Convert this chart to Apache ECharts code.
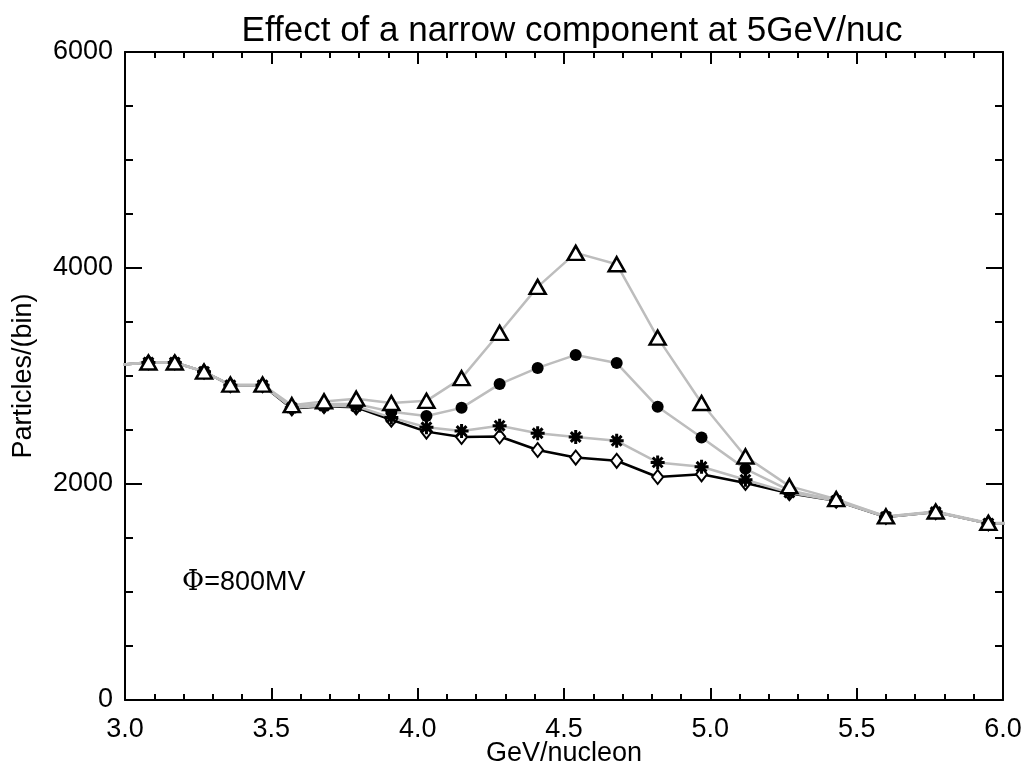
<!DOCTYPE html>
<html>
<head>
<meta charset="utf-8">
<script src="https://cdn.jsdelivr.net/npm/echarts/dist/echarts.min.js"></script>
<style>
  html, body { margin: 0; padding: 0; background: #fff; }
  #chart { width: 1025px; height: 767px; }
</style>
</head>
<body>
<div id="chart"></div>
<script>
// bin centres (GeV/nucleon), first and last lie just outside the plotted range
const energy = [2.99, 3.08, 3.17, 3.27, 3.36, 3.47, 3.57, 3.68, 3.79, 3.91, 4.03, 4.15, 4.28,
  4.41, 4.54, 4.68, 4.82, 4.97, 5.12, 5.27, 5.43, 5.60, 5.77, 5.95, 6.13];

// no narrow component (black, diamonds)
const baseCounts = [3105, 3125, 3125, 3040, 2915, 2915, 2700, 2720, 2710, 2595, 2485, 2435, 2440,
  2315, 2245, 2215, 2065, 2090, 2010, 1915, 1845, 1695, 1740, 1635, 1640];
// weakest component (asterisks)
const starCounts = [3105, 3125, 3125, 3040, 2915, 2915, 2705, 2725, 2720, 2615, 2525, 2490, 2540,
  2470, 2435, 2400, 2200, 2160, 2040, 1920, 1845, 1695, 1740, 1635, 1640];
// medium component (filled circles)
const circleCounts = [3105, 3125, 3125, 3040, 2915, 2915, 2715, 2740, 2740, 2670, 2630, 2705, 2925,
  3075, 3195, 3120, 2715, 2430, 2140, 1940, 1850, 1700, 1740, 1635, 1640];
// strongest component (open triangles)
const triangleCounts = [3105, 3125, 3125, 3040, 2920, 2920, 2730, 2765, 2790, 2750, 2770, 2980, 3400,
  3825, 4140, 4035, 3355, 2750, 2255, 1980, 1860, 1700, 1745, 1640, 1640];

const xTicks = [3.0, 3.5, 4.0, 4.5, 5.0, 5.5, 6.0];
const yTicks = [0, 2000, 4000, 6000];

const pairs = vals => energy.map((e, i) => [e, vals[i]]);

const chartInstance = echarts.init(document.getElementById('chart'));

const fontFamily = '"Liberation Sans", Arial, Helvetica, sans-serif';
const grey = '#bdbdbd';
const asterisk = 'path://M0,5L10,5M5,0L5,10M1.5,1.5L8.5,8.5M8.5,1.5L1.5,8.5';

const xBase = {
  type: 'value',
  min: xTicks[0],
  max: xTicks[xTicks.length - 1],
  interval: 0.5,
  axisLine: { show: true, onZero: false, lineStyle: { color: '#000', width: 2 } },
  axisTick: { show: true, inside: true, length: 12, lineStyle: { color: '#000', width: 2 } },
  minorTick: { show: true, splitNumber: 5, length: 6, lineStyle: { color: '#000', width: 2 } },
  splitLine: { show: false }
};

const yBase = {
  type: 'value',
  min: yTicks[0],
  max: yTicks[yTicks.length - 1],
  interval: 2000,
  axisLine: { show: true, onZero: false, lineStyle: { color: '#000', width: 2 } },
  axisTick: { show: true, inside: true, length: 17, lineStyle: { color: '#000', width: 2 } },
  minorTick: { show: true, splitNumber: 4, length: 8, lineStyle: { color: '#000', width: 2 } },
  splitLine: { show: false }
};

const option = {
  animation: false,
  backgroundColor: '#fff',
  textStyle: { fontFamily: fontFamily },
  title: {
    text: 'Effect of a narrow component at 5GeV/nuc',
    left: 567,
    top: 9,
    textAlign: 'center',
    textStyle: { fontFamily: fontFamily, fontSize: 35, fontWeight: 'normal', color: '#000' }
  },
  grid: { left: 125, right: 22, top: 52, bottom: 67, outerBoundsMode: 'none' },
  xAxis: [
    Object.assign({}, xBase, {
      position: 'bottom',
      name: 'GeV/nucleon',
      nameLocation: 'middle',
      nameGap: 40,
      nameMoveOverlap: false,
      nameTextStyle: { fontFamily: fontFamily, fontSize: 27, color: '#000' },
      axisLabel: {
        show: true, margin: 16, fontSize: 27, color: '#000', fontFamily: fontFamily,
        formatter: v => v.toFixed(1)
      }
    }),
    Object.assign({}, xBase, { position: 'top', axisLabel: { show: false } })
  ],
  yAxis: [
    Object.assign({}, yBase, {
      position: 'left',
      name: 'Particles/(bin)',
      nameLocation: 'middle',
      nameGap: 88,
      nameMoveOverlap: false,
      nameTextStyle: { fontFamily: fontFamily, fontSize: 27, color: '#000' },
      axisLabel: {
        show: true, margin: 12, fontSize: 27, color: '#000', fontFamily: fontFamily,
        formatter: v => String(v)
      }
    }),
    Object.assign({}, yBase, { position: 'right', axisLabel: { show: false } })
  ],
  graphic: [
    {
      type: 'text',
      left: 182,
      top: 569,
      style: {
        text: '{p|Φ}=800MV',
        fontFamily: fontFamily,
        fontSize: 27,
        fill: '#000',
        rich: {
          p: { fontFamily: '"DejaVu Serif", "Liberation Serif", serif', fontSize: 27, fill: '#000' }
        }
      }
    }
  ],
  series: [
    {
      name: 'base',
      type: 'line',
      data: pairs(baseCounts),
      clip: true,
      symbol: 'diamond',
      symbolSize: [11, 14],
      lineStyle: { color: '#000', width: 2.5 },
      itemStyle: { color: '#fff', borderColor: '#000', borderWidth: 2 },
      emphasis: { disabled: true }
    },
    {
      name: 'asterisk',
      type: 'line',
      data: pairs(starCounts),
      clip: true,
      symbol: asterisk,
      symbolSize: 14,
      lineStyle: { color: grey, width: 2.5 },
      itemStyle: { color: '#000', borderColor: '#000', borderWidth: 3 },
      emphasis: { disabled: true }
    },
    {
      name: 'circle',
      type: 'line',
      data: pairs(circleCounts),
      clip: true,
      symbol: 'circle',
      symbolSize: 12,
      lineStyle: { color: grey, width: 2.5 },
      itemStyle: { color: '#000', borderColor: '#000', borderWidth: 0 },
      emphasis: { disabled: true }
    },
    {
      name: 'triangle',
      type: 'line',
      data: pairs(triangleCounts),
      clip: true,
      symbol: 'triangle',
      symbolSize: [16, 14],
      lineStyle: { color: grey, width: 2.5 },
      itemStyle: { color: '#fff', borderColor: '#000', borderWidth: 2.5 },
      emphasis: { disabled: true }
    }
  ]
};

chartInstance.setOption(option);
</script>
</body>
</html>
